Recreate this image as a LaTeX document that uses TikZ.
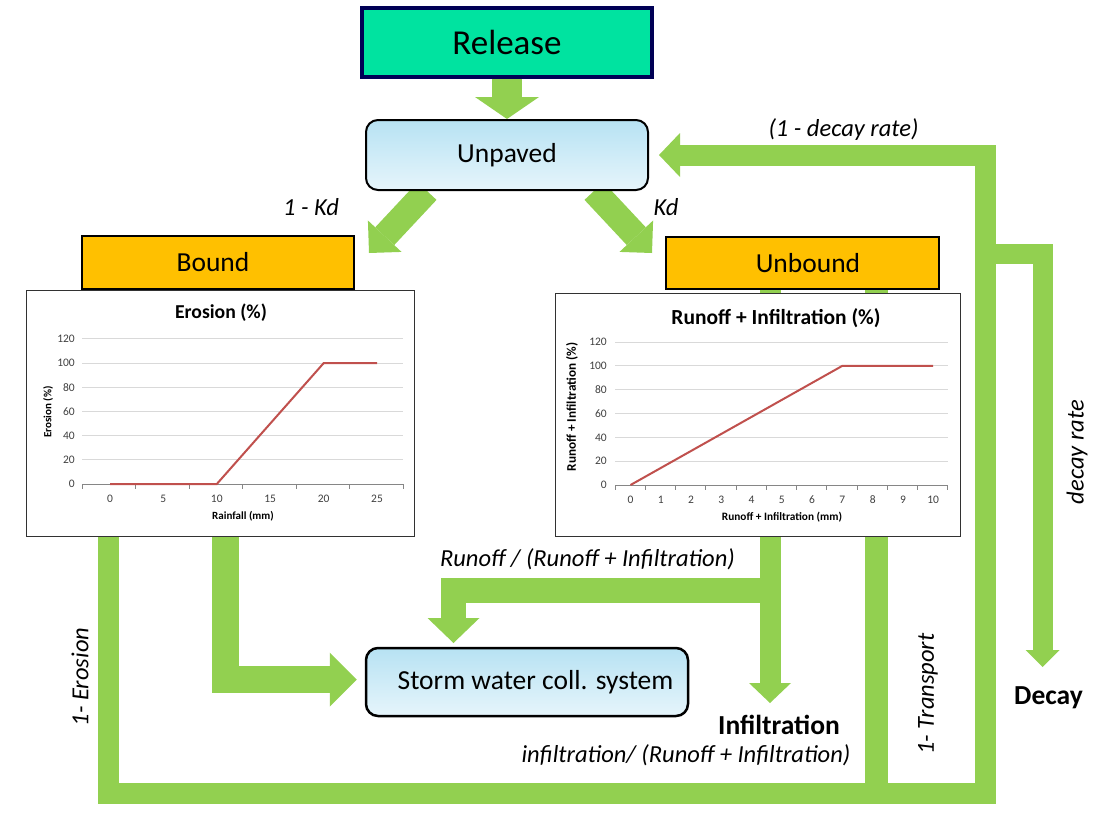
\documentclass[tikz,border=0pt]{standalone}
\usepackage{fontspec}
\setmainfont{Carlito}
\usetikzlibrary{arrows.meta,calc}
\pgfdeclarelayer{bg}
\pgfsetlayers{bg,main}
\definecolor{arrowgreen}{RGB}{146,208,80}
\definecolor{relfill}{RGB}{0,227,160}
\definecolor{reldraw}{RGB}{0,0,85}
\definecolor{boundfill}{RGB}{255,192,0}
\definecolor{bluetop}{RGB}{183,226,243}
\definecolor{bluebot}{RGB}{230,245,251}
\definecolor{gridgray}{RGB}{217,217,217}
\definecolor{axisgray}{RGB}{134,134,134}
\definecolor{labgray}{RGB}{64,64,64}
\definecolor{plotred}{RGB}{192,80,77}
\definecolor{framegray}{RGB}{50,50,50}
\tikzset{
  gbar/.style={draw=arrowgreen, line width=#1, line join=miter},
  gtip/.style 2 args={-{Triangle[width=#1,length=#2,line width=0pt]}},
  relbox/.style={draw=reldraw, fill=relfill, line width=4pt, minimum width=290pt, minimum height=69pt, font=\fontsize{35}{37}\selectfont},
  bluebox/.style={draw=black, line width=2pt, rounded corners=12pt, top color=bluetop, bottom color=bluebot, font=\fontsize{27.5}{29}\selectfont},
  orangebox/.style={draw=black, line width=2pt, fill=boundfill, font=\fontsize{27.5}{29}\selectfont},
  chartbox/.style={draw=framegray, line width=1.5pt, fill=white},
  gridline/.style={draw=gridgray, line width=1pt},
  axisline/.style={draw=axisgray, line width=1pt},
  plotline/.style={draw=plotred, line width=2pt},
  ticklab/.style={text=labgray, inner sep=0pt, font=\fontsize{11.5}{12}\selectfont},
  ctitle/.style={inner sep=0pt, font=\fontsize{#1}{#1}\selectfont\bfseries},
  lab/.style={inner sep=0pt, font=\fontsize{24.5}{26}\selectfont\itshape},
  boldlab/.style={inner sep=0pt, font=\fontsize{27.5}{29}\selectfont\bfseries},
}
\begin{document}
\begin{tikzpicture}[x=1pt,y=-1pt]
\useasboundingbox (0,0) rectangle (1105,814);
% main boxes
\node[relbox] (release) at (507,42.5) {Release};
\node[bluebox, minimum width=282pt, minimum height=70pt] (unpaved) at (507,155) {Unpaved};
\node[orangebox, minimum width=272pt, minimum height=53pt] (bound) at (218,262.5) {\hspace*{-10pt}Bound};
\node[orangebox, minimum width=273pt, minimum height=52pt] (unbound) at (802.5,263) {\hspace*{11pt}Unbound};
\node[bluebox, line width=2.5pt, minimum width=322pt, minimum height=68pt] (storm) at (527,682) {\hspace*{17pt}Storm water coll. system};
\node[chartbox, minimum width=388pt, minimum height=246pt] (chart1) at (220.5,413.5) {};
\node[chartbox, minimum width=405pt, minimum height=243pt] (chart2) at (758,415) {};

% chart 1
\node[ctitle=19.7] (t1) at (221,313) {Erosion (\%)};
\foreach \k in {1,...,6} {
  \draw[gridline] (82,{484-24.17*\k}) -- (403,{484-24.17*\k});
}
\foreach \k in {0,...,6} {
  \pgfmathtruncatemacro\val{\k*20}
  \node[ticklab, anchor=east, name=ey\k] at (75,{484-24.17*\k}) {\val};
}
\draw[axisline] (82,484) -- (403,484);
\foreach \j in {0,...,6} { \draw[axisline] ({82+53.5*\j},484) -- ({82+53.5*\j},489); }
\foreach \v [count=\j from 0] in {0,5,10,15,20,25} {
  \node[ticklab, name=ex\j] at ({110+53.4*\j},499) {\v};
}
\node[ctitle=11, rotate=90] (eyt) at (48,412) {Erosion (\%)};
\node[ctitle=11] (ext) at (243,516) {Rainfall (mm)};
\draw[plotline] (110,484) -- (216.8,484) -- (323.6,363.2) -- (377,363.2);

% chart 2
\node[ctitle=21.5] (t2) at (776,318) {Runoff + Infiltration (\%)};
\foreach \k in {1,...,6} {
  \draw[gridline] (615,{485-23.83*\k}) -- (948,{485-23.83*\k});
}
\foreach \k in {0,...,6} {
  \pgfmathtruncatemacro\val{\k*20}
  \node[ticklab, anchor=east, name=ry\k] at (607,{485-23.83*\k}) {\val};
}
\draw[axisline] (615,485) -- (948,485);
\foreach \j in {0,...,11} { \draw[axisline] ({615+30.27*\j},485) -- ({615+30.27*\j},490); }
\foreach \j in {0,...,10} {
  \node[ticklab, name=rx\j] at ({630.5+30.27*\j},500) {\j};
}
\node[ctitle=13.2, rotate=90] (ryt) at (572,407) {Runoff + Infiltration (\%)};
\node[ctitle=11.3] (rxt) at (782,517) {Runoff + Infiltration (mm)};
\draw[plotline] (630.5,485) -- (842.4,365.8) -- (933.2,365.8);

% coordinates for connectors
\coordinate (eroS) at (108.5,300);
\coordinate (eroB) at (108.5,793);
\coordinate (loopBR) at (985.5,793);
\coordinate (loopTR) at (985.5,155);
\coordinate (fbTip) at ($(unpaved.east)+(10,0)$);
\coordinate (decS) at (985.5,254);
\coordinate (decC) at (1042.5,254);
\coordinate (decTip) at (1042.5,667);
\coordinate (bndS) at (225,300);
\coordinate (bndC) at (225,679.5);
\coordinate (stormIn) at ($(storm.west)+(-8,-2.5)$);
\coordinate (ubS) at (770,290);
\coordinate (infTip) at (770,703);
\coordinate (splS) at (770,590.5);
\coordinate (splC) at (453.5,590.5);
\coordinate (splTip) at (453.5,643);
\coordinate (trS) at (876.5,290);
\coordinate (trB) at (876.5,793);
\coordinate (kdLs) at ($(unpaved.south)+(-80,0)$);
\coordinate (kdLt) at (369,253);
\coordinate (kdRs) at ($(unpaved.south)+(87,0)$);
\coordinate (kdRt) at (652,253);

\begin{pgfonlayer}{bg}
\fill[white] (0,0) rectangle (1105,814);
\draw[gbar=30pt, gtip={64pt}{22pt}] (release.south) -- (unpaved.north);
\draw[gbar=26pt, gtip={46pt}{23pt}] (kdLs) -- (kdLt);
\draw[gbar=26pt, gtip={46pt}{23pt}] (kdRs) -- (kdRt);
\draw[gbar=21pt, gtip={44pt}{21pt}] (eroS) -- (eroB) -- (loopBR) -- (loopTR) -- (fbTip);
\draw[gbar=20pt, gtip={34pt}{17pt}] (decS) -- (decC) -- (decTip);
\draw[gbar=27pt, gtip={54pt}{27pt}] (bndS) -- (bndC) -- (stormIn);
\draw[gbar=21pt, gtip={42pt}{20pt}] (ubS) -- (infTip);
\draw[gbar=25pt, gtip={52pt}{25pt}] (splS) -- (splC) -- (splTip);
\draw[gbar=23pt] (trS) -- (trB);
\end{pgfonlayer}

% labels
\node[lab] (lkdl) at (311,207) {1 - Kd};
\node[lab] (lkdr) at (666,207) {Kd};
\node[lab] (ldec1) at (843.5,130) {(1 - decay rate)};
\node[lab, rotate=90] (ldec) at (1077,452) {decay rate};
\node[lab] (lrun) at (587.5,559) {Runoff / (Runoff + Infiltration)};
\node[boldlab] (linf) at (779,725) {Infiltration};
\node[lab] (linf2) at (686,755) {infiltration/ (Runoff + Infiltration)};
\node[lab, rotate=90] (lero) at (80,677) {1- Erosion};
\node[lab, rotate=90] (ltr) at (928,694) {1- Transport};
\node[boldlab] (ldecay) at (1048.5,698) {Decay};
\end{tikzpicture}
\end{document}
